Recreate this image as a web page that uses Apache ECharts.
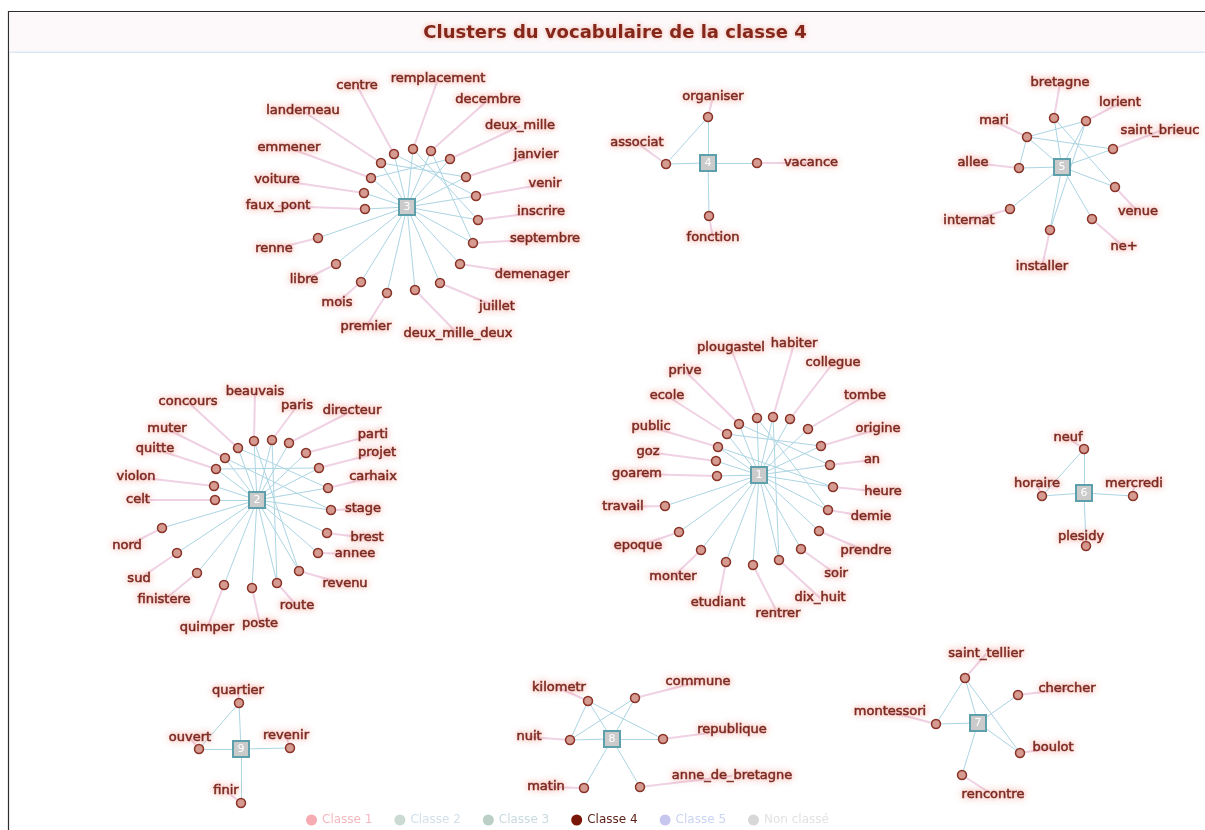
<!DOCTYPE html>
<html>
<head>
<meta charset="utf-8">
<script src="https://cdn.jsdelivr.net/npm/echarts@6/dist/echarts.min.js"></script>
<style>
  html, body { margin: 0; padding: 0; background: #fff; }
  #chart { width: 1205px; height: 830px; }
</style>
</head>
<body>
<div id="chart"></div>
<script>
// legende
const legendNames = ['Classe 1', 'Classe 2', 'Classe 3', 'Classe 4', 'Classe 5', 'Non classé'];
const legendColors = ['#f6aab2', '#cbdad3', '#bccfc6', '#7a1608', '#c6c6ee', '#d8d8d8'];
const legendTextColors = ['#f4b8bf', '#d3e0ea', '#c8dae0', '#5a1d16', '#cad3f3', '#e2e2e2'];

// cluster 1
const center1 = [759, 475];
const words1 = ['goarem', 'goz', 'public', 'ecole', 'prive', 'plougastel', 'habiter', 'collegue', 'tombe', 'origine', 'an', 'heure', 'demie', 'prendre', 'soir', 'dix_huit', 'rentrer', 'etudiant', 'monter', 'epoque', 'travail'];
const nodes1 = [[717, 476], [716, 461], [718, 447], [727, 434], [739, 424], [757, 418], [773, 417], [790, 419], [808, 429], [821, 446], [830, 465], [833, 487], [828, 510], [819, 531], [801, 549], [779, 560], [753, 565], [726, 562], [701, 550], [679, 532], [665, 506]];
const labels1 = [[637, 474], [648, 452], [651, 427], [667, 396], [685, 371], [731, 348], [794, 344], [833, 363], [865, 396], [878, 429], [872, 460], [883, 492], [871, 517], [866, 551], [836, 574], [820, 598], [778, 614], [718, 603], [673, 577], [638, 546], [623, 507]];
const cross1 = [['ecole', 'origine'], ['prive', 'an'], ['public', 'heure'], ['plougastel', 'demie'], ['habiter', 'dix_huit']];

// cluster 2
const center2 = [257, 500];
const words2 = ['celt', 'violon', 'quitte', 'muter', 'concours', 'beauvais', 'paris', 'directeur', 'parti', 'projet', 'carhaix', 'stage', 'brest', 'annee', 'revenu', 'route', 'poste', 'quimper', 'finistere', 'sud', 'nord'];
const nodes2 = [[215, 500], [214, 486], [216, 469], [225, 458], [238, 448], [254, 441], [272, 440], [289, 443], [306, 453], [319, 468], [328, 488], [331, 510], [327, 533], [318, 553], [299, 571], [277, 583], [252, 588], [224, 585], [197, 573], [177, 553], [162, 528]];
const labels2 = [[138, 500], [136, 477], [155, 449], [167, 429], [188, 402], [255, 392], [297, 406], [352, 411], [373, 435], [377, 453], [373, 477], [363, 509], [367, 538], [355, 554], [345, 584], [297, 606], [260, 624], [207, 628], [164, 600], [139, 579], [127, 546]];
const cross2 = [['paris', 'route'], ['concours', 'carhaix'], ['muter', 'stage'], ['beauvais', 'revenu'], ['quitte', 'projet']];

// cluster 3
const center3 = [407, 207];
const words3 = ['faux_pont', 'voiture', 'emmener', 'landerneau', 'centre', 'remplacement', 'decembre', 'deux_mille', 'janvier', 'venir', 'inscrire', 'septembre', 'demenager', 'juillet', 'deux_mille_deux', 'premier', 'mois', 'libre', 'renne'];
const nodes3 = [[365, 209], [364, 193], [371, 178], [381, 163], [394, 154], [413, 149], [431, 151], [450, 159], [466, 177], [476, 196], [478, 220], [473, 243], [460, 264], [440, 283], [415, 290], [387, 293], [361, 282], [336, 264], [318, 238]];
const labels3 = [[278, 206], [277, 180], [289, 148], [303, 111], [357, 86], [438, 79], [488, 100], [520, 126], [536, 155], [545, 184], [541, 212], [545, 239], [532, 275], [497, 307], [458, 334], [366, 327], [337, 303], [304, 280], [274, 249]];
const cross3 = [['centre', 'venir'], ['remplacement', 'inscrire'], ['landerneau', 'janvier'], ['decembre', 'septembre'], ['emmener', 'deux_mille']];

// cluster 4
const center4 = [708, 163];
const words4 = ['organiser', 'associat', 'vacance', 'fonction'];
const nodes4 = [[708, 117], [666, 164], [757, 163], [709, 216]];
const labels4 = [[713, 97], [637, 143], [811, 163], [713, 238]];
const cross4 = [['associat', 'organiser']];

// cluster 5
const center5 = [1062, 167];
const words5 = ['bretagne', 'lorient', 'mari', 'saint_brieuc', 'allee', 'venue', 'internat', 'ne+', 'installer'];
const nodes5 = [[1054, 118], [1086, 121], [1027, 137], [1113, 149], [1019, 168], [1115, 187], [1010, 209], [1092, 219], [1050, 230]];
const labels5 = [[1060, 83], [1120, 103], [994, 121], [1160, 131], [973, 163], [1138, 212], [969, 221], [1124, 247], [1042, 267]];
const cross5 = [['mari', 'lorient'], ['mari', 'saint_brieuc'], ['mari', 'allee'], ['lorient', 'installer'], ['bretagne', 'venue']];

// cluster 6
const center6 = [1084, 493];
const words6 = ['neuf', 'horaire', 'mercredi', 'plesidy'];
const nodes6 = [[1084, 449], [1042, 496], [1133, 496], [1086, 546]];
const labels6 = [[1068, 438], [1037, 484], [1134, 484], [1081, 537]];
const cross6 = [['neuf', 'horaire']];

// cluster 7
const center7 = [978, 723];
const words7 = ['saint_tellier', 'chercher', 'montessori', 'boulot', 'rencontre'];
const nodes7 = [[965, 678], [1018, 695], [936, 724], [1020, 753], [962, 775]];
const labels7 = [[986, 654], [1067, 689], [890, 712], [1053, 748], [993, 795]];
const cross7 = [['saint_tellier', 'montessori'], ['saint_tellier', 'boulot']];

// cluster 8
const center8 = [612, 739];
const words8 = ['kilometr', 'commune', 'nuit', 'republique', 'matin', 'anne_de_bretagne'];
const nodes8 = [[588, 701], [635, 698], [570, 740], [663, 739], [584, 788], [640, 787]];
const labels8 = [[559, 688], [698, 682], [529, 737], [732, 730], [546, 787], [732, 776]];
const cross8 = [['kilometr', 'nuit'], ['kilometr', 'republique'], ['nuit', 'commune']];

// cluster 9
const center9 = [241, 749];
const words9 = ['quartier', 'ouvert', 'revenir', 'finir'];
const nodes9 = [[239, 703], [199, 749], [290, 748], [241, 803]];
const labels9 = [[238, 691], [190, 738], [286, 736], [226, 791]];
const cross9 = [['quartier', 'ouvert']];

const clusters = [
  { id: '1', center: center1, words: words1, nodes: nodes1, labels: labels1, cross: cross1 },
  { id: '2', center: center2, words: words2, nodes: nodes2, labels: labels2, cross: cross2 },
  { id: '3', center: center3, words: words3, nodes: nodes3, labels: labels3, cross: cross3 },
  { id: '4', center: center4, words: words4, nodes: nodes4, labels: labels4, cross: cross4 },
  { id: '5', center: center5, words: words5, nodes: nodes5, labels: labels5, cross: cross5 },
  { id: '6', center: center6, words: words6, nodes: nodes6, labels: labels6, cross: cross6 },
  { id: '7', center: center7, words: words7, nodes: nodes7, labels: labels7, cross: cross7 },
  { id: '8', center: center8, words: words8, nodes: nodes8, labels: labels8, cross: cross8 },
  { id: '9', center: center9, words: words9, nodes: nodes9, labels: labels9, cross: cross9 }
];

const FONT = '"DejaVu Sans", Verdana, sans-serif';

// halo rose autour des mots
const wordLabel = {
  show: true,
  position: 'inside',
  fontFamily: FONT,
  fontSize: 13,
  color: '#772a22',
  textBorderColor: '#8a352b',
  textBorderWidth: 0.6,
  textShadowColor: 'rgba(240, 140, 125, 0.7)',
  textShadowBlur: 6
};

const graphNodes = [];
const graphLinks = [];
clusters.forEach(c => {
  c.words.forEach((w, i) => {
    graphNodes.push({
      name: 'lbl:' + w,
      value: c.labels[i],
      symbolSize: 1,
      itemStyle: { color: 'rgba(0,0,0,0)', borderWidth: 0 },
      label: Object.assign({ formatter: w }, wordLabel)
    });
  });
});
clusters.forEach(c => {
  graphNodes.push({
    name: 'c' + c.id,
    value: c.center,
    symbol: 'rect',
    symbolSize: 16,
    itemStyle: { color: '#cbcbcb', borderColor: '#5e9fac', borderWidth: 2 },
    label: { show: true, position: 'inside', formatter: c.id, color: '#fff', fontSize: 11, fontFamily: FONT }
  });
  c.words.forEach((w, i) => {
    graphNodes.push({ name: w, value: c.nodes[i], category: 3 });
    graphLinks.push({ source: 'c' + c.id, target: w });
    graphLinks.push({ source: w, target: 'lbl:' + w, lineStyle: { color: '#efd2e4', width: 2 } });
  });
  c.cross.forEach(p => graphLinks.push({ source: p[0], target: p[1] }));
});

const chart = echarts.init(document.getElementById('chart'));
const option = {
  animation: false,
  graphic: [
    {
      type: 'rect', z: -10, silent: true,
      shape: { x: 8.5, y: 11.5, width: 1300, height: 900 },
      style: { fill: '#fff', stroke: '#2e2e2e', lineWidth: 1.2 }
    },
    {
      type: 'rect', z: -9, silent: true,
      shape: { x: 9.5, y: 12.5, width: 1300, height: 39 },
      style: { fill: '#fdf8f9' }
    },
    {
      type: 'rect', z: -9, silent: true,
      shape: { x: 9.5, y: 51.5, width: 1300, height: 1.5 },
      style: { fill: '#dce7f4' }
    },
    {
      type: 'text', z: 10, silent: true,
      x: 615, y: 33,
      style: {
        text: 'Clusters du vocabulaire de la classe 4',
        fill: '#84271a',
        font: 'bold 18px "DejaVu Sans", Verdana, sans-serif',
        align: 'center',
        verticalAlign: 'middle',
        textShadowColor: 'rgba(230, 100, 70, 0.5)',
        textShadowBlur: 4
      }
    }
  ],
  legend: {
    bottom: -1,
    left: 301,
    icon: 'circle',
    itemWidth: 11,
    itemHeight: 11,
    itemGap: 22,
    selectedMode: false,
    textStyle: { fontFamily: FONT, fontSize: 12 },
    data: legendNames.map((n, i) => ({
      name: n,
      itemStyle: { color: legendColors[i], borderWidth: 0 },
      textStyle: { color: legendTextColors[i] }
    }))
  },
  grid: { left: 0, right: 0, top: 0, bottom: 0 },
  xAxis: { type: 'value', min: 0, max: 1205, show: false },
  yAxis: { type: 'value', min: 0, max: 830, inverse: true, show: false },
  series: [
    {
      type: 'graph',
      coordinateSystem: 'cartesian2d',
      layout: 'none',
      symbol: 'circle',
      symbolSize: 9,
      itemStyle: { color: '#d59a90', borderColor: '#8a3328', borderWidth: 1.5 },
      lineStyle: { color: '#acd5e3', width: 1, opacity: 1, curveness: 0 },
      label: { show: false },
      emphasis: { disabled: true },
      categories: legendNames.map((n, i) => ({ name: n, itemStyle: i === 3 ? { color: '#d59a90', borderColor: '#8a3328' } : { color: legendColors[i] } })),
      data: graphNodes,
      links: graphLinks
    }
  ]
};
chart.setOption(option);
</script>
</body>
</html>
